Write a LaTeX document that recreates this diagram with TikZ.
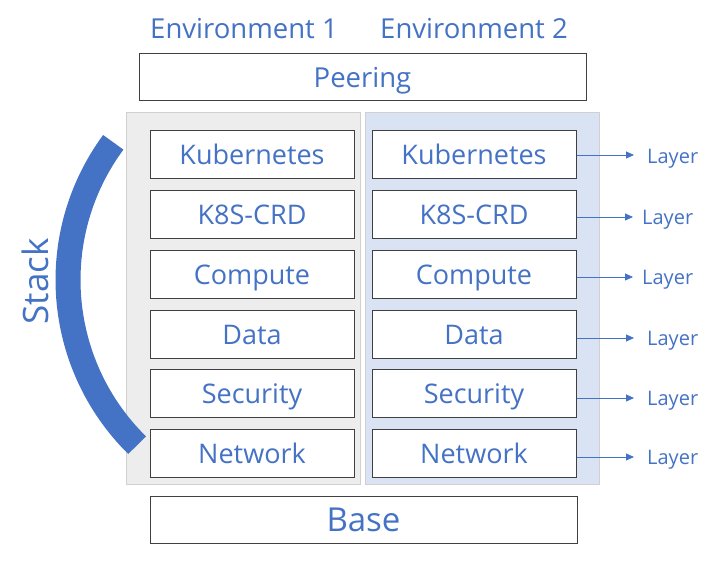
\documentclass[tikz,border=0pt]{standalone}
\usepackage{fontspec}
\setmainfont{Open Sans}
\usetikzlibrary{arrows.meta}
\definecolor{txtblue}{HTML}{4472C4}
\definecolor{boxline}{HTML}{404040}
\definecolor{panelgray}{HTML}{EDEDED}
\definecolor{panelblue}{HTML}{DAE3F3}
\definecolor{panelline}{HTML}{D0D0D0}
\begin{document}
\begin{tikzpicture}[x=1pt,y=1pt,
  captext/.style={text height=#1,text depth=0pt},
  layerbox/.style={draw=boxline,line width=1pt,fill=white,minimum width=204pt,minimum height=48pt,inner sep=0pt,text=txtblue,font=\fontsize{27}{30}\selectfont,captext=19.3pt},
  widebox/.style={draw=boxline,line width=1pt,fill=white,minimum height=47pt,inner sep=0pt,text=txtblue},
  panel/.style={draw=panelline,line width=1pt,minimum width=234pt,minimum height=372pt,inner sep=0pt},
  envlabel/.style={text=txtblue,font=\fontsize{27.5}{30}\selectfont,inner sep=0pt,captext=19.6pt},
  layerlabel/.style={text=txtblue,font=\fontsize{20}{23}\selectfont,inner sep=0pt,anchor=west,captext=14.3pt},
  layerarrow/.style={draw=txtblue,line width=0.8pt,-{Triangle[length=8pt,width=7pt]}}
]
\useasboundingbox (0,0) rectangle (712,564);
% environment labels
\node[envlabel] (env1) at (244,535) {Environment 1};
\node[envlabel] (env2) at (474,535) {Environment 2};
% peering
\node[widebox,minimum width=447pt,font=\fontsize{27.5}{30}\selectfont,captext=19.6pt] (peer) at (362.5,486.5) {Peering};
% panels
\node[panel,fill=panelgray] (pan1) at (243,265) {};
\node[panel,fill=panelblue] (pan2) at (482,265) {};
% left column
\node[layerbox] (k1) at (252,409) {Kubernetes};
\node[layerbox] (c1) at (252,349) {K8S-CRD};
\node[layerbox] (p1) at (252,289) {Compute};
\node[layerbox] (d1) at (252,229) {Data};
\node[layerbox] (s1) at (252,170) {Security};
\node[layerbox] (n1) at (252,110) {Network};
% right column
\node[layerbox] (k2) at (474,409) {Kubernetes};
\node[layerbox] (c2) at (474,349) {K8S-CRD};
\node[layerbox] (p2) at (474,289) {Compute};
\node[layerbox] (d2) at (474,229) {Data};
\node[layerbox] (s2) at (474,170) {Security};
\node[layerbox] (n2) at (474,110) {Network};
% base
\node[widebox,minimum width=427pt,minimum height=47pt,font=\fontsize{33}{36}\selectfont,captext=23.6pt] (base) at (363.5,44) {Base};
% layer labels
\node[layerlabel] (l1) at (647,407.5) {Layer};
\node[layerlabel] (l2) at (642,347) {Layer};
\node[layerlabel] (l3) at (642,287) {Layer};
\node[layerlabel] (l4) at (647,226) {Layer};
\node[layerlabel] (l5) at (647,166) {Layer};
\node[layerlabel] (l6) at (647,107) {Layer};
\coordinate (t1) at (634,409);
\coordinate (t2) at (633,347);
\coordinate (t3) at (633,287);
\coordinate (t4) at (634,226);
\coordinate (t5) at (634,166);
\coordinate (t6) at (634,107);
\draw[layerarrow] (k2.east |- t1) -- (t1);
\draw[layerarrow] (c2.east |- t2) -- (t2);
\draw[layerarrow] (p2.east |- t3) -- (t3);
\draw[layerarrow] (d2.east |- t4) -- (t4);
\draw[layerarrow] (s2.east |- t5) -- (t5);
\draw[layerarrow] (n2.east |- t6) -- (t6);
% stack arc
\coordinate (arcc) at (300,284);
\draw[txtblue,line width=25pt] ([shift={(143.6:232pt)}]arcc) arc[start angle=143.6,end angle=225.4,radius=232pt];
\node[text=txtblue,rotate=90,font=\fontsize{35}{38}\selectfont,inner sep=0pt,captext=25pt] (stack) at (36,282.5) {Stack};
\end{tikzpicture}
\end{document}
